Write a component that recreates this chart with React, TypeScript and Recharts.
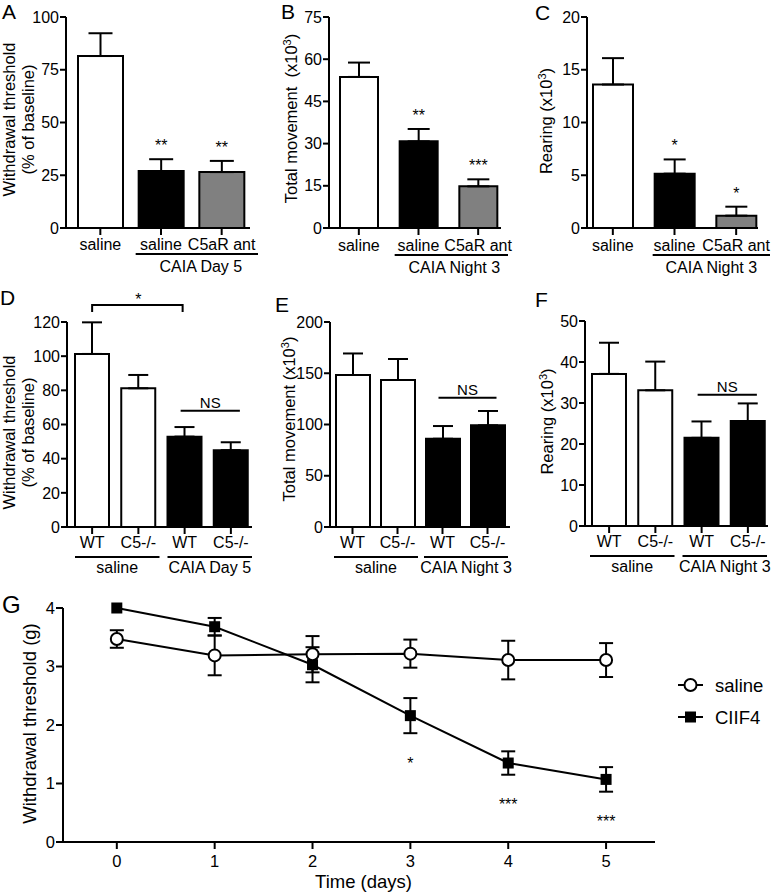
import React from 'react';
import {
  BarChart,
  Bar,
  Cell,
  XAxis,
  YAxis,
  ErrorBar,
  LabelList,
  ReferenceArea,
  ReferenceLine,
  LineChart,
  Line,
  Legend,
} from 'recharts';

const FONT = '"Liberation Sans", Arial, Helvetica, sans-serif';
const INK = '#000';

// panel A - withdrawal threshold, CAIA day 5
const aLabels = ['saline', 'saline', 'C5aR ant'];
const aMeans = [81.5, 27, 26.5];
const aSem = [10.8, 5.6, 5.3];
const aStars = ['', '**', '**'];
const aTicks = [0, 25, 50, 75, 100];

// panel B - total movement, CAIA night 3
const bMeans = [53.7, 30.8, 14.8];
const bSem = [5.1, 4.4, 2.5];
const bStars = ['', '**', '***'];
const bTicks = [0, 15, 30, 45, 60, 75];

// panel C - rearing, CAIA night 3
const cMeans = [13.6, 5.15, 1.17];
const cSem = [2.5, 1.35, 0.85];
const cStars = ['', '*', '*'];
const cTicks = [0, 5, 10, 15, 20];

// panels D-F - WT vs C5-/-
const koLabels = ['WT', 'C5-/-', 'WT', 'C5-/-'];
const dMeans = [101.3, 81.2, 52.9, 45];
const dSem = [18.5, 7.8, 5.6, 4.6];
const dTicks = [0, 20, 40, 60, 80, 100, 120];
const eMeans = [148.3, 143.4, 86.1, 99.2];
const eSem = [21, 20.5, 12.4, 14];
const eTicks = [0, 50, 100, 150, 200];
const fMeans = [37.1, 33.1, 21.5, 25.6];
const fSem = [7.6, 7, 4, 4.3];
const fTicks = [0, 10, 20, 30, 40, 50];

const day5Group = [{ label: 'CAIA Day 5', from: 1, to: 2 }];
const night3Group = [{ label: 'CAIA Night 3', from: 1, to: 2 }];
const koDayGroups = [
  { label: 'saline', from: 0, to: 1 },
  { label: 'CAIA Day 5', from: 2, to: 3 },
];
const koNightGroups = [
  { label: 'saline', from: 0, to: 1 },
  { label: 'CAIA Night 3', from: 2, to: 3 },
];

// panel G - time course
const gDays = [0, 1, 2, 3, 4, 5];
const salineMean = [3.47, 3.19, 3.21, 3.22, 3.11, 3.11];
const salineSem = [0.15, 0.34, 0.31, 0.24, 0.33, 0.29];
const ciifMean = [4.0, 3.68, 3.03, 2.16, 1.35, 1.07];
const ciifSem = [0, 0.15, 0.3, 0.3, 0.2, 0.21];
const ciifStars = ['', '', '', '*', '***', '***'];
const gTicks = [0, 1, 2, 3, 4];
const legendOrder = ['saline', 'CIIF4'];

const threeFills = ['#fff', '#000', '#808080'];
const fourFills = ['#fff', '#fff', '#000', '#000'];

type Group = { label: string; from: number; to: number };
type Note = { from: number; to: number; at: number; text: string; bracket?: boolean };

const txt = { fill: INK, fontFamily: FONT } as const;

function CatTick(props: any) {
  const { x, y, labels, dy, index, payload } = props;
  const i = index ?? payload?.index ?? 0;
  return (
    <text x={x} y={y + dy} textAnchor="middle" fontSize={16} {...txt}>
      {labels[i]}
    </text>
  );
}

function AxisTitle(props: any) {
  const { viewBox, lines, xs, dy, size = 16.5 } = props;
  const cy = viewBox.y + viewBox.height / 2 + dy;
  return (
    <g>
      {lines.map((ln: React.ReactNode, i: number) => (
        <text
          key={i}
          x={xs[i]}
          y={cy}
          transform={`rotate(-90 ${xs[i]} ${cy})`}
          textAnchor="middle"
          fontSize={size}
          {...txt}
        >
          {ln}
        </text>
      ))}
    </g>
  );
}

function XTitle(props: any) {
  const { viewBox, text, dx, dy } = props;
  return (
    <text x={viewBox.x + viewBox.width / 2 + dx} y={viewBox.y + dy} textAnchor="middle" fontSize={18.5} {...txt}>
      {text}
    </text>
  );
}

const perThousand = (name: string) => (
  <>
    {name}
    {'\u00a0(x10'}
    <tspan dy={-6} fontSize={11}>
      3
    </tspan>
    <tspan dy={6}>)</tspan>
  </>
);

const starContent = (stars: string[], means: number[], sem: number[]) => (props: any) => {
  const vb = props.viewBox && props.viewBox.width != null ? props.viewBox : props;
  const i = props.index;
  if (i == null || !stars[i]) return null;
  const perUnit = vb.height / means[i];
  return (
    <text x={vb.x + vb.width / 2} y={vb.y - sem[i] * perUnit - 8} textAnchor="middle" fontSize={16} {...txt}>
      {stars[i]}
    </text>
  );
};

const groupShape = (g: Group, inset: [number, number], lineDy: number, textDy: number, textDx: number) => (p: any) => {
  const x0 = p.x + inset[0];
  const x1 = p.x + p.width + inset[1];
  const yb = p.y + p.height;
  return (
    <g>
      <line x1={x0} x2={x1} y1={yb + lineDy} y2={yb + lineDy} stroke={INK} strokeWidth={2} />
      <text x={(x0 + x1) / 2 + textDx} y={yb + textDy} textAnchor="middle" fontSize={16} {...txt}>
        {g.label}
      </text>
    </g>
  );
};

const noteShape = (n: Note) => (p: any) => {
  const { x1, y1, x2 } = p;
  if (n.bracket) {
    return (
      <g>
        <path d={`M${x1} ${y1 + 7} V${y1} H${x2 - 2} V${y1 + 7}`} fill="none" stroke={INK} strokeWidth={2} />
        <text x={(x1 + x2) / 2} y={y1} textAnchor="middle" fontSize={16} {...txt}>
          {n.text}
        </text>
      </g>
    );
  }
  return (
    <g>
      <line x1={x1 - 4} x2={x2 + 9} y1={y1} y2={y1} stroke={INK} strokeWidth={2} />
      <text x={(x1 + x2) / 2 + 2.5} y={y1 - 3} textAnchor="middle" fontSize={15} {...txt}>
        {n.text}
      </text>
    </g>
  );
};

type PanelProps = {
  left: number;
  top: number;
  width: number;
  height: number;
  marginTop: number;
  marginRight: number;
  yWidth: number;
  xHeight: number;
  labels: string[];
  means: number[];
  sem: number[];
  stars?: string[];
  fills: string[];
  yTicks: number[];
  barSize: number;
  pad: { left: number; right: number };
  title: React.ReactNode[];
  titleX: number[];
  titleDy: number;
  groups: Group[];
  inset: [number, number];
  tickDy: number;
  lineDy: number;
  groupDy: number;
  groupDx?: number;
  notes?: Note[];
};

const keyOf = (i: number) => `c${i}`;

function BarPanel(p: PanelProps) {
  const data = p.means.map((m, i) => ({ key: keyOf(i), mean: m, err: [0, p.sem[i]] }));
  const axisStroke = { stroke: INK, strokeWidth: 2 };
  return (
    <div style={{ position: 'absolute', left: p.left, top: p.top }}>
      <BarChart
        width={p.width}
        height={p.height}
        data={data}
        margin={{ top: p.marginTop, right: p.marginRight, bottom: 0, left: 0 }}
      >
        <XAxis
          dataKey="key"
          height={p.xHeight}
          interval={0}
          padding={p.pad}
          axisLine={axisStroke}
          tickLine={axisStroke}
          tickSize={7}
          tickMargin={0}
          tick={<CatTick labels={p.labels} dy={p.tickDy} />}
        />
        <YAxis
          width={p.yWidth}
          type="number"
          domain={[p.yTicks[0], p.yTicks[p.yTicks.length - 1]]}
          ticks={p.yTicks}
          interval={0}
          axisLine={axisStroke}
          tickLine={axisStroke}
          tickSize={6}
          tickMargin={1}
          tick={{ fill: INK, fontSize: 16, fontFamily: FONT }}
          label={<AxisTitle lines={p.title} xs={p.titleX} dy={p.titleDy} />}
        />
        <Bar dataKey="mean" barSize={p.barSize} stroke={INK} strokeWidth={2} isAnimationActive={false}>
          {data.map((d, i) => (
            <Cell key={d.key} fill={p.fills[i]} />
          ))}
          <ErrorBar dataKey="err" width={Math.round(p.barSize / 4 + 1)} stroke={INK} strokeWidth={2} direction="y" />
          {p.stars && <LabelList dataKey="mean" content={starContent(p.stars, p.means, p.sem)} />}
        </Bar>
        {p.groups.map((g) => (
          <ReferenceArea
            key={`${g.label}-${g.from}`}
            x1={keyOf(g.from)}
            x2={keyOf(g.to)}
            ifOverflow="visible"
            shape={groupShape(g, p.inset, p.lineDy, p.groupDy, p.groupDx ?? 0)}
          />
        ))}
        {(p.notes ?? []).map((n, k) => (
          <ReferenceLine
            key={k}
            segment={[
              { x: keyOf(n.from), y: n.at },
              { x: keyOf(n.to), y: n.at },
            ]}
            ifOverflow="visible"
            shape={noteShape(n)}
          />
        ))}
      </BarChart>
    </div>
  );
}

const circleDot = (props: any) => {
  const { cx, cy, index } = props;
  if (cx == null || cy == null) return <g key={`c-${index}`} />;
  return <circle key={`c-${index}`} cx={cx} cy={cy} r={6} fill="#fff" stroke={INK} strokeWidth={2} />;
};

const squareDot = (props: any) => {
  const { cx, cy, index } = props;
  if (cx == null || cy == null) return <g key={`s-${index}`} />;
  return <rect key={`s-${index}`} x={cx - 5.5} y={cy - 5.5} width={11} height={11} fill={INK} />;
};

const gStarContent = (props: any) => {
  const { x, y, value } = props;
  if (!value || x == null || y == null) return null;
  return (
    <text x={x} y={y + 9} textAnchor="middle" fontSize={16} {...txt}>
      {value}
    </text>
  );
};

function GLegend(props: any) {
  const names: string[] = (props.payload ?? [])
    .map((e: any) => e.value)
    .filter((v: string) => legendOrder.includes(v));
  const ordered = legendOrder.filter((n) => names.length === 0 || names.includes(n));
  return (
    <svg width={100} height={54} style={{ fontFamily: FONT }}>
      {ordered.map((name, i) => {
        const cy = 10 + i * 32;
        return (
          <g key={name}>
            <line x1={3} x2={28} y1={cy} y2={cy} stroke={INK} strokeWidth={2} />
            {name === 'saline' ? (
              <circle cx={15.5} cy={cy} r={6} fill="#fff" stroke={INK} strokeWidth={2} />
            ) : (
              <rect x={10} y={cy - 5.5} width={11} height={11} fill={INK} />
            )}
            <text x={40} y={cy + 6.5} fontSize={18.5} fill={INK}>
              {name}
            </text>
          </g>
        );
      })}
    </svg>
  );
}

function TimeCourse() {
  const data = gDays.map((d, i) => ({
    day: d,
    saline: salineMean[i],
    salineErr: salineSem[i],
    ciif: ciifMean[i],
    ciifErr: ciifSem[i],
    starAt: ciifStars[i] ? ciifMean[i] - ciifSem[i] - 0.45 : null,
    star: ciifStars[i],
  }));
  const axisStroke = { stroke: INK, strokeWidth: 2 };
  return (
    <div style={{ position: 'absolute', left: 0, top: 590 }}>
      <LineChart width={775} height={302} data={data} margin={{ top: 18, right: 120, bottom: 0, left: 0 }}>
        <XAxis
          dataKey="day"
          type="number"
          domain={[-0.55, 5.5]}
          ticks={gDays}
          interval={0}
          height={50}
          axisLine={axisStroke}
          tickLine={axisStroke}
          tickSize={7}
          tickMargin={6}
          tick={{ fill: INK, fontSize: 16.5, fontFamily: FONT }}
          label={<XTitle text="Time (days)" dx={4.5} dy={46} />}
        />
        <YAxis
          width={63}
          type="number"
          domain={[0, 4]}
          ticks={gTicks}
          interval={0}
          axisLine={axisStroke}
          tickLine={axisStroke}
          tickSize={7}
          tickMargin={1}
          tick={{ fill: INK, fontSize: 16.5, fontFamily: FONT }}
          label={<AxisTitle lines={['Withdrawal threshold (g)']} xs={[36]} dy={-1.5} size={18.5} />}
        />
        <Line
          dataKey="ciif"
          name="CIIF4"
          stroke={INK}
          strokeWidth={2}
          dot={squareDot}
          activeDot={false}
          isAnimationActive={false}
        >
          <ErrorBar dataKey="ciifErr" width={7} stroke={INK} strokeWidth={2} direction="y" />
        </Line>
        <Line
          dataKey="saline"
          name="saline"
          stroke={INK}
          strokeWidth={2}
          dot={circleDot}
          activeDot={false}
          isAnimationActive={false}
        >
          <ErrorBar dataKey="salineErr" width={7} stroke={INK} strokeWidth={2} direction="y" />
        </Line>
        <Line
          dataKey="starAt"
          stroke="none"
          dot={false}
          activeDot={false}
          legendType="none"
          isAnimationActive={false}
        >
          <LabelList dataKey="star" content={gStarContent} />
        </Line>
        <Legend
          layout="vertical"
          align="center"
          verticalAlign="middle"
          wrapperStyle={{ left: 675, top: 85, width: 100, height: 54 }}
          content={<GLegend />}
        />
      </LineChart>
    </div>
  );
}

const panelLetters = [
  { t: 'A', x: 2, y: 18.5 },
  { t: 'B', x: 281, y: 19 },
  { t: 'C', x: 535, y: 19.5 },
  { t: 'D', x: 0, y: 305 },
  { t: 'E', x: 275, y: 312 },
  { t: 'F', x: 535, y: 307 },
  { t: 'G', x: 2, y: 613 },
];

export default function App() {
  return (
    <div style={{ position: 'absolute', left: 0, top: 0, width: 775, height: 892, background: '#fff', fontFamily: FONT }}>
      <BarPanel
        left={0}
        top={0}
        width={262}
        height={285}
        marginTop={17}
        marginRight={12}
        yWidth={66}
        xHeight={57}
        labels={aLabels}
        means={aMeans}
        sem={aSem}
        stars={aStars}
        fills={threeFills}
        yTicks={aTicks}
        barSize={45}
        pad={{ left: 4, right: -2 }}
        title={['Withdrawal threshold', '(% of baseline)']}
        titleX={[14.5, 33.5]}
        titleDy={-3}
        groups={day5Group}
        inset={[5, 6]}
        tickDy={15}
        lineDy={26}
        groupDy={44}
        groupDx={4}
      />
      <BarPanel
        left={258}
        top={0}
        width={257}
        height={285}
        marginTop={17}
        marginRight={14}
        yWidth={71}
        xHeight={57}
        labels={aLabels}
        means={bMeans}
        sem={bSem}
        stars={bStars}
        fills={threeFills}
        yTicks={bTicks}
        barSize={38}
        pad={{ left: 0, right: -7 }}
        title={[perThousand('Total movement\u00a0')]}
        titleX={[39]}
        titleDy={-4}
        groups={night3Group}
        inset={[6, 0]}
        tickDy={15.5}
        lineDy={27}
        groupDy={45}
        groupDx={3}
      />
      <BarPanel
        left={515}
        top={0}
        width={260}
        height={285}
        marginTop={17}
        marginRight={17}
        yWidth={72}
        xHeight={57}
        labels={aLabels}
        means={cMeans}
        sem={cSem}
        stars={cStars}
        fills={threeFills}
        yTicks={cTicks}
        barSize={40}
        pad={{ left: -5, right: -9 }}
        title={[perThousand('Rearing')]}
        titleX={[36.5]}
        titleDy={-1.5}
        groups={night3Group}
        inset={[9, 3]}
        tickDy={15.5}
        lineDy={27}
        groupDy={45}
      />
      <BarPanel
        left={0}
        top={280}
        width={262}
        height={305}
        marginTop={42}
        marginRight={10}
        yWidth={67}
        xHeight={58}
        labels={koLabels}
        means={dMeans}
        sem={dSem}
        fills={fourFills}
        yTicks={dTicks}
        barSize={34}
        pad={{ left: 2, right: -2 }}
        title={['Withdrawal threshold', '(% of baseline)']}
        titleX={[14.5, 33.5]}
        titleDy={8}
        groups={koDayGroups}
        inset={[6, -2]}
        tickDy={14}
        lineDy={30}
        groupDy={46}
        notes={[
          { from: 0, to: 2, at: 130, text: '*', bracket: true },
          { from: 2, to: 3, at: 68, text: 'NS' },
        ]}
      />
      <BarPanel
        left={258}
        top={280}
        width={257}
        height={305}
        marginTop={42}
        marginRight={5}
        yWidth={72}
        xHeight={58}
        labels={koLabels}
        means={eMeans}
        sem={eSem}
        fills={fourFills}
        yTicks={eTicks}
        barSize={34}
        pad={{ left: 0, right: 0 }}
        title={[perThousand('Total movement')]}
        titleX={[37]}
        titleDy={-5.5}
        groups={koNightGroups}
        inset={[4, -2]}
        tickDy={14}
        lineDy={30}
        groupDy={46}
        notes={[{ from: 2, to: 3, at: 126, text: 'NS' }]}
      />
      <BarPanel
        left={515}
        top={280}
        width={260}
        height={305}
        marginTop={41}
        marginRight={7}
        yWidth={70}
        xHeight={59}
        labels={koLabels}
        means={fMeans}
        sem={fSem}
        fills={fourFills}
        yTicks={fTicks}
        barSize={34}
        pad={{ left: 1, right: -3 }}
        title={[perThousand('Rearing')]}
        titleX={[37.5]}
        titleDy={-2}
        groups={koNightGroups}
        inset={[4, -4]}
        tickDy={14}
        lineDy={30}
        groupDy={46}
        notes={[{ from: 2, to: 3, at: 32, text: 'NS' }]}
      />
      <TimeCourse />
      <svg
        width={775}
        height={892}
        style={{ position: 'absolute', left: 0, top: 0, pointerEvents: 'none' }}
      >
        {panelLetters.map((l) => (
          <text key={l.t} x={l.x} y={l.y} fontSize={l.t === 'G' ? 24 : 21} {...txt}>
            {l.t}
          </text>
        ))}
      </svg>
    </div>
  );
}
